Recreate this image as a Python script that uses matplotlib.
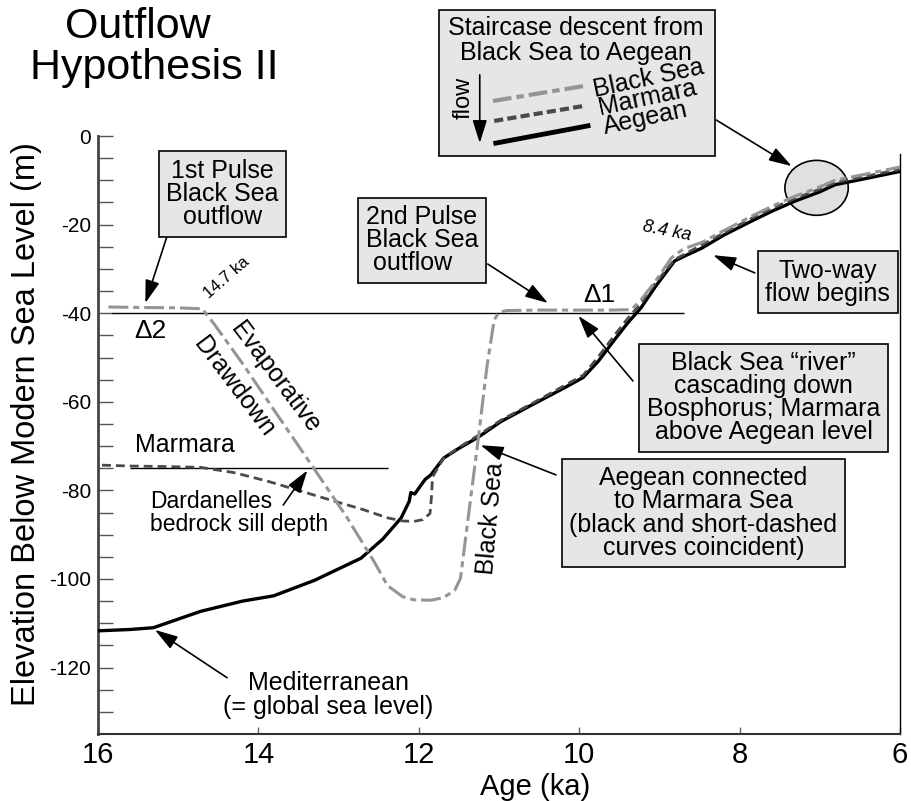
import matplotlib
matplotlib.use('Agg')
import matplotlib.pyplot as plt
from matplotlib.patches import Ellipse, Rectangle

plt.rcParams['font.family'] = ['Liberation Sans', 'DejaVu Sans']
plt.rcParams['axes.unicode_minus'] = False

# Aegean = Mediterranean (global sea level), solid black
ae_age = [16.0, 15.6, 15.31, 14.72, 14.2, 13.81, 13.3, 12.72, 12.45, 12.22, 12.12, 12.1,
          12.05, 11.98, 11.92, 11.85, 11.69, 11.5, 11.26, 10.98, 10.6, 10.19, 9.95, 9.76,
          9.56, 9.4, 9.23, 9.05, 8.81, 8.65, 8.47, 8.2, 7.85, 7.6, 7.31, 7.0, 6.81, 6.4, 6.0]
ae_level = [-111.7, -111.4, -111.0, -107.3, -105.0, -103.8, -100.3, -95.3, -91.0, -86.2, -82.5, -80.5,
            -80.8, -79.0, -77.5, -76.5, -72.7, -70.5, -68.0, -64.5, -60.8, -56.9, -54.5, -50.8,
            -46.0, -42.3, -38.8, -34.0, -28.2, -26.8, -25.3, -22.4, -19.2, -17.0, -14.7, -12.6, -11.0, -9.5, -8.0]

# Marmara, short-dashed dark gray
mm_age = [15.95, 15.6, 15.2, 14.72, 14.3, 13.89, 13.5, 13.06, 12.7, 12.39, 12.2, 12.06, 11.95,
          11.86, 11.84, 11.83, 11.75, 11.69, 11.5, 11.26, 10.98, 10.6, 10.19, 9.95, 9.76, 9.56,
          9.4, 9.23, 9.05, 8.81, 8.65, 8.47, 8.2, 7.85, 7.6, 7.31, 7.0, 6.81, 6.4, 6.0]
mm_level = [-74.3, -74.5, -74.6, -74.8, -76.0, -77.9, -80.0, -82.4, -84.3, -86.2, -86.9, -87.0, -86.6,
            -85.2, -81.0, -77.0, -74.5, -72.7, -70.3, -67.6, -64.2, -60.5, -56.4, -54.0, -49.8, -45.0,
            -41.3, -37.8, -33.2, -27.9, -26.3, -24.6, -21.9, -18.6, -16.4, -14.1, -12.0, -10.5, -9.0, -7.5]

# Black Sea, long dash-dot light gray
bs_age = [15.87, 15.5, 15.0, 14.7, 14.55, 14.2, 13.8, 13.31, 12.9, 12.56, 12.39, 12.2, 12.06,
          11.85, 11.69, 11.55, 11.48, 11.39, 11.27, 11.15, 11.06, 11.0, 10.9, 10.5, 10.0, 9.6,
          9.35, 9.23, 9.05, 8.85, 8.7, 8.47, 8.2, 7.85, 7.6, 7.31, 7.0, 6.81, 6.4, 6.0]
bs_level = [-38.6, -38.7, -38.8, -39.0, -42.5, -51.3, -62.0, -75.0, -86.0, -96.0, -101.5, -104.0, -104.7,
            -104.8, -104.2, -102.5, -99.8, -87.0, -70.0, -52.0, -41.5, -39.8, -39.4, -39.3, -39.3, -39.3,
            -39.2, -37.0, -32.8, -27.5, -25.5, -24.0, -21.4, -18.1, -15.9, -13.6, -11.5, -10.0, -8.5, -7.0]

# reference levels: Black Sea outflow sill (-40) and Dardanelles sill (-75)
ref_bosphorus = (-40, 15.83, 8.69)
ref_dardanelles = (-75, 15.6, 12.39)

box_fc = '#e6e6e6'
bs_color = '#959595'
mm_color = '#4a4a4a'

fig = plt.figure(figsize=(9.11, 8.01), dpi=100)
ax = fig.add_axes([0.1076, 0.0836, 0.8803, 0.7466])

ax.add_patch(Ellipse((7.04, -11.7), 0.79, 12.4, fc='#e0e0e0', ec='black', lw=1.2, zorder=1))

ax.hlines(ref_bosphorus[0], ref_bosphorus[1], ref_bosphorus[2], color='black', lw=1.0, zorder=2)
ax.hlines(ref_dardanelles[0], ref_dardanelles[1], ref_dardanelles[2], color='black', lw=1.0, zorder=2)

ax.plot(ae_age, ae_level, color='black', lw=2.4, zorder=3, solid_capstyle='round')
ax.plot(mm_age, mm_level, color=mm_color, lw=2.0, dashes=(3.2, 1.8), zorder=4)
ax.plot(bs_age, bs_level, color=bs_color, lw=2.2, dashes=(6.5, 1.6, 2.0, 1.6), zorder=5)

ax.set_xlim(16, 6)
ax.set_ylim(-135, 0)
ax.set_xticks([16, 14, 12, 10, 8, 6])
ax.set_yticks(range(0, -121, -20))
ax.set_yticks(range(0, -135, -5), minor=True)
ax.tick_params(axis='y', which='both', direction='in', length=11, width=1.0, color='#555555',
               labelsize=15, pad=5)
ax.tick_params(axis='x', direction='in', length=5, width=1.0, color='#666666', labelsize=21, pad=5)
ax.spines['top'].set_visible(False)
ax.spines['left'].set_linewidth(2.0)
ax.spines['left'].set_color('#444444')
ax.spines['bottom'].set_linewidth(1.5)
ax.spines['bottom'].set_color('#333333')
ax.spines['right'].set_linewidth(1.0)
ax.spines['right'].set_bounds(-135, -4)

fig.text(27 / 911, 0.47, 'Elevation Below Modern Sea Level (m)', rotation=90, fontsize=23.5,
         ha='center', va='center')
fig.text(0.587, 0.0, 'Age (ka)', fontsize=21, ha='center', va='bottom')
fig.text(138 / 911, 1 - 38 / 801, 'Outflow', fontsize=31, ha='center', va='baseline')
fig.text(154 / 911, 1 - 79 / 801, 'Hypothesis II', fontsize=31, ha='center', va='baseline')

bbox = dict(boxstyle='square,pad=0.3', fc=box_fc, ec='black', lw=1.2)
arrow = dict(arrowstyle='-|>,head_length=0.7,head_width=0.22', color='black', lw=1.2,
             mutation_scale=20, shrinkA=0, shrinkB=0)


def boxed(text, xy, head, tail, ma='center'):
    ax.annotate('', xy=head, xytext=tail, arrowprops=arrow, zorder=6, annotation_clip=False)
    ax.text(xy[0], xy[1], text, fontsize=18, ha='center', va='center', multialignment=ma,
            bbox=bbox, zorder=7, clip_on=False, linespacing=0.95)


boxed('1st Pulse\nBlack Sea\noutflow', (14.45, -13.1), (15.41, -37.7), (15.13, -22.1))
boxed('2nd Pulse\nBlack Sea\n outflow', (11.96, -23.5), (10.39, -37.7), (11.14, -28.9), ma='left')
boxed('Two-way\nflow begins', (6.9, -33.0), (8.33, -26.9), (7.81, -30.9))
boxed('Black Sea \u201criver\u201d\ncascading down\nBosphorus; Marmara\nabove Aegean level',
      (7.7, -59.1), (10.01, -40.6), (9.33, -55.3))
boxed('Aegean connected\nto Marmara Sea\n(black and short-dashed\ncurves coincident)',
      (8.45, -85.1), (11.23, -69.8), (10.29, -76.5))

# staircase legend box
ax.add_patch(Rectangle((8.31, -4.5), 3.44, 32.9, fc=box_fc, ec='black', lw=1.2, zorder=6,
                       clip_on=False))
ax.text(10.04, 21.6, 'Staircase descent from\nBlack Sea to Aegean', fontsize=18, ha='center',
        va='center', zorder=7, clip_on=False, linespacing=1.05)
ax.plot([11.075, 9.94], [7.9, 11.3], color=bs_color, lw=3, dashes=(4.5, 1.2, 1.8, 1.2),
        zorder=7, clip_on=False)
ax.plot([11.06, 9.94], [3.4, 6.8], color=mm_color, lw=3, dashes=(2.2, 1.0), zorder=7, clip_on=False)
ax.plot([11.04, 9.89], [-1.6, 2.3], color='black', lw=3.5, zorder=7, clip_on=False)
ax.text(9.82, 10.4, 'Black Sea', fontsize=18, rotation=12, ha='left', va='center', zorder=7,
        clip_on=False, rotation_mode='anchor')
ax.text(9.76, 6.2, 'Marmara', fontsize=18, rotation=12, ha='left', va='center', zorder=7,
        clip_on=False, rotation_mode='anchor')
ax.text(9.7, 1.9, 'Aegean', fontsize=18, rotation=12, ha='left', va='center', zorder=7,
        clip_on=False, rotation_mode='anchor')
ax.text(11.44, 8.6, 'flow', fontsize=17, rotation=90, ha='center', va='center', zorder=7,
        clip_on=False)
ax.annotate('', xy=(11.24, -1.6), xytext=(11.24, 13.8), arrowprops=arrow, zorder=7,
            annotation_clip=False)
ax.annotate('', xy=(7.35, -6.8), xytext=(8.29, 3.6), arrowprops=arrow, zorder=7,
            annotation_clip=False)

# plain annotations
ax.annotate('', xy=(15.29, -111.5), xytext=(14.39, -122.3), arrowprops=arrow, zorder=6)
ax.text(13.125, -126.2, 'Mediterranean\n(= global sea level)', fontsize=18, ha='center',
        va='center', linespacing=1.0)
ax.annotate('', xy=(13.39, -75.5), xytext=(13.69, -83.3), arrowprops=arrow, zorder=6)
ax.text(15.35, -85.1, 'Dardanelles\nbedrock sill depth', fontsize=16.5, ha='left', va='center',
        multialignment='left', linespacing=1.0)
ax.text(14.91, -69.8, 'Marmara', fontsize=18, ha='center', va='center')
ax.text(15.35, -44.0, '\u03942', fontsize=19, ha='center', va='center')
ax.text(9.75, -35.9, '\u03941', fontsize=19, ha='center', va='center')
ax.text(14.39, -32.0, '14.7 ka', fontsize=12, rotation=41, ha='center', va='center',
        rotation_mode='anchor')
ax.text(8.91, -21.4, '8.4 ka', fontsize=13, rotation=-11, ha='center', va='center',
        style='italic', rotation_mode='anchor')
ax.text(13.79, -54.6, 'Evaporative', fontsize=18, rotation=-53, ha='center', va='center',
        rotation_mode='anchor')
ax.text(14.3, -56.7, 'Drawdown', fontsize=18, rotation=-53, ha='center', va='center',
        rotation_mode='anchor')
ax.text(11.1, -86.2, 'Black Sea', fontsize=18, rotation=85, ha='center', va='center',
        rotation_mode='anchor')

fig.savefig('out.png', dpi=100)
